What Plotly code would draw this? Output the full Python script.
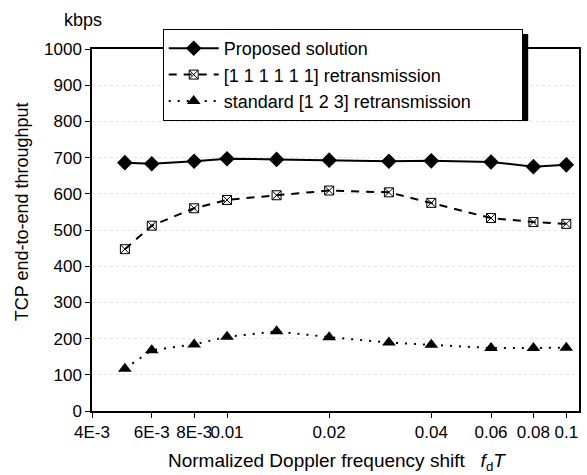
import plotly.graph_objects as go
import math

x_vals = [0.005, 0.006, 0.008, 0.01, 0.014, 0.02, 0.03, 0.04, 0.06, 0.08, 0.1]
proposed = [686, 683, 690, 697, 695, 693, 690, 691, 688, 675, 680]
retrans_111111 = [447, 512, 560, 583, 596, 609, 604, 575, 533, 522, 517]
standard_123 = [117, 168, 184, 205, 220, 204, 189, 183, 174, 174, 175]

x_tickvals = [0.004, 0.006, 0.008, 0.01, 0.02, 0.04, 0.06, 0.08, 0.1]
x_ticktext = ["4E-3", "6E-3", "8E-3", "0.01", "0.02", "0.04", "0.06", "0.08", "0.1"]
y_tickvals = [0, 100, 200, 300, 400, 500, 600, 700, 800, 900, 1000]

series_names = ["Proposed solution",
                "[1 1 1 1 1 1] retransmission",
                "standard [1 2 3] retransmission"]

FONT = "Arial, 'Liberation Sans', Helvetica, sans-serif"
PAD = "\u00a0" * 9

fig = go.Figure()
fig.add_trace(go.Scatter(
    x=x_vals, y=proposed, mode="lines+markers", name=series_names[0],
    line=dict(color="black", width=2),
    marker=dict(symbol="diamond", size=12, color="black")))
fig.add_trace(go.Scatter(
    x=x_vals, y=retrans_111111, mode="lines+markers", name=series_names[1],
    line=dict(color="black", width=2, dash="8px,7px"),
    marker=dict(symbol="square-x-open", size=9, color="black", line=dict(width=1))))
fig.add_trace(go.Scatter(
    x=x_vals, y=standard_123, mode="lines+markers", name=series_names[2] + PAD,
    line=dict(color="black", width=2, dash="2px,7px"),
    marker=dict(symbol="triangle-up", size=12, color="black")))

W, H = 587, 475
L, R, T, B = 92, 6, 49, 64
pw, ph = W - L - R, H - T - B

def px_x(p):
    return (p - L) / pw

def px_y(p):
    return (H - B - p) / ph

fig.update_layout(
    width=W, height=H,
    margin=dict(l=L, r=R, t=T, b=B),
    paper_bgcolor="white", plot_bgcolor="white",
    font=dict(family=FONT, size=18, color="black"),
    showlegend=True,
    legend=dict(
        x=px_x(163), y=px_y(29), xanchor="left", yanchor="top",
        bgcolor="white", bordercolor="black", borderwidth=1,
        font=dict(size=18), itemwidth=50, tracegroupgap=0,
    ),
    xaxis=dict(
        type="log", range=[math.log10(0.004), math.log10(0.109)],
        tickvals=x_tickvals, ticktext=x_ticktext, tickangle=0,
        ticks="outside", ticklen=5, tickcolor="black",
        showline=True, linecolor="black", linewidth=1.5, mirror=True,
        showgrid=False, zeroline=False, tickfont=dict(size=17),
        ticklabeloverflow="allow",
    ),
    yaxis=dict(
        range=[0, 1000], tickvals=y_tickvals,
        ticks="outside", ticklen=5, tickcolor="black",
        showline=True, linecolor="black", linewidth=1.5, mirror=True,
        showgrid=True, gridcolor="#e4e4e4", griddash="dot", gridwidth=1,
        zeroline=False, tickfont=dict(size=17),
    ),
    shapes=[
        dict(type="rect", xref="paper", yref="paper",
             x0=px_x(168), x1=px_x(530), y0=px_y(121), y1=px_y(34),
             fillcolor="black", line=dict(width=0), layer="above"),
    ],
    annotations=[
        dict(text="kbps", x=px_x(83), y=px_y(20), xref="paper", yref="paper",
             showarrow=False, font=dict(size=18), xanchor="center", yanchor="middle"),
        dict(text="TCP end-to-end throughput", x=px_x(22), y=px_y(212),
             xref="paper", yref="paper", showarrow=False, textangle=-90,
             font=dict(size=18), xanchor="center", yanchor="middle"),
        dict(text="Normalized Doppler frequency shift   <i>f</i><sub>d</sub><i>T</i>",
             x=px_x(338), y=px_y(462), xref="paper", yref="paper", showarrow=False,
             font=dict(size=19), xanchor="center", yanchor="middle"),
    ],
)

fig.write_html("out.html", config={"displayModeBar": False},
               post_script="document.body.style.margin='0px';")
